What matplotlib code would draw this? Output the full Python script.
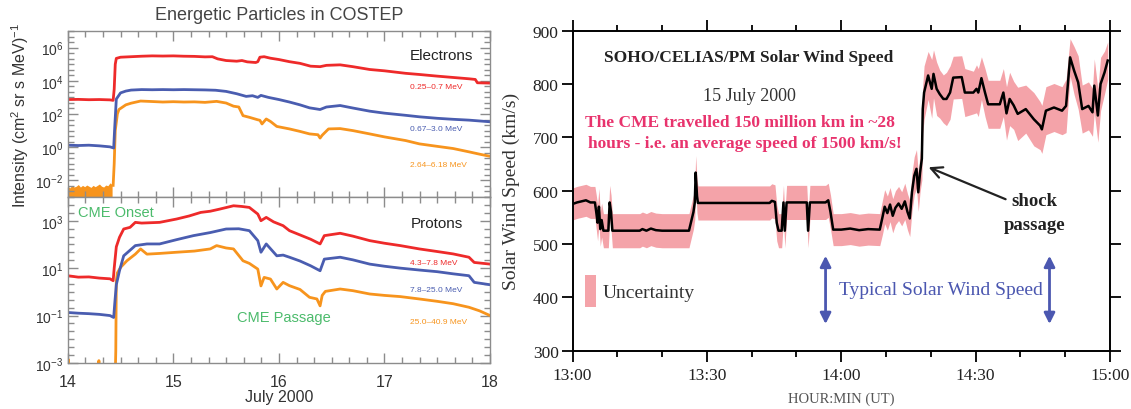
import numpy as np
import matplotlib.pyplot as plt
from matplotlib.ticker import FixedLocator, NullFormatter, FuncFormatter, LogFormatterSciNotation
from matplotlib.patches import Rectangle

plt.rcParams['font.family'] = 'Liberation Sans'
plt.rcParams['mathtext.fontset'] = 'custom'
plt.rcParams['mathtext.rm'] = 'Liberation Sans'
plt.rcParams['mathtext.it'] = 'Liberation Sans:italic'

# ---- COSTEP electrons (day of July 2000, log10 intensity)
e1_t = [14.0, 14.1, 14.2, 14.3, 14.4, 14.43, 14.44, 14.45, 14.46, 14.5, 14.6, 14.7, 14.8, 14.9,
        15.0, 15.1, 15.2, 15.3, 15.37, 15.42, 15.5, 15.6, 15.65, 15.7, 15.78, 15.8, 15.82, 15.86,
        15.92, 16.0, 16.1, 16.2, 16.3, 16.39, 16.45, 16.58, 16.7, 16.86, 17.0, 17.2, 17.33, 17.5,
        17.65, 17.8, 17.86, 17.88, 18.0]
e1_log = [2.87, 2.88, 2.86, 2.87, 2.85, 2.82, 3.5, 5.0, 5.35, 5.42, 5.45, 5.48, 5.50, 5.49,
          5.50, 5.48, 5.47, 5.44, 5.45, 5.32, 5.22, 5.18, 5.22, 5.14, 5.10, 5.15, 5.42, 5.45,
          5.36, 5.28, 5.15, 5.05, 4.88, 4.85, 4.93, 4.96, 4.85, 4.68, 4.60, 4.45, 4.38, 4.28,
          4.20, 4.12, 4.08, 3.88, 3.86]

e2_t = [14.0, 14.1, 14.2, 14.3, 14.4, 14.435, 14.445, 14.46, 14.5, 14.55, 14.6, 14.7, 14.8, 14.9,
        15.0, 15.1, 15.2, 15.3, 15.4, 15.5, 15.6, 15.69, 15.75, 15.8, 15.83, 15.9, 16.0, 16.1,
        16.2, 16.29, 16.39, 16.45, 16.58, 16.7, 16.86, 17.0, 17.2, 17.33, 17.5, 17.65, 17.8,
        17.9, 18.0]
e2_log = [0.12, 0.10, 0.12, 0.08, 0.02, -0.05, 1.2, 2.9, 3.27, 3.38, 3.44, 3.47, 3.46, 3.47,
          3.46, 3.47, 3.46, 3.45, 3.43, 3.36, 3.22, 3.06, 3.10, 3.00, 3.12, 3.00, 2.87, 2.72,
          2.55, 2.37, 2.27, 2.42, 2.51, 2.36, 2.17, 2.05, 1.92, 1.83, 1.74, 1.68, 1.63,
          1.58, 1.53]

# orange channel before onset is a noisy band sitting on the bottom of the panel
e3_pre_t = [14.00, 14.02, 14.04, 14.06, 14.08, 14.10, 14.12, 14.14, 14.16, 14.18, 14.20,
            14.22, 14.24, 14.26, 14.28, 14.30, 14.32, 14.34, 14.36, 14.38, 14.40, 14.42]
e3_pre_top = [-2.35, -2.45, -2.3, -2.4, -2.35, -2.25, -2.4, -2.3, -2.38, -2.28, -2.35,
              -2.42, -2.3, -2.38, -2.3, -2.22, -2.35, -2.4, -2.28, -2.32, -2.15, -2.25]
e3_t = [14.43, 14.44, 14.45, 14.47, 14.485, 14.55, 14.6, 14.69, 14.8, 14.9, 15.0, 15.1, 15.2,
        15.3, 15.41, 15.5, 15.57, 15.62, 15.66, 15.72, 15.8, 15.82, 15.84, 15.88, 15.92, 15.98,
        16.1, 16.2, 16.29, 16.37, 16.39, 16.41, 16.47, 16.58, 16.7, 16.86, 17.0, 17.2, 17.33,
        17.5, 17.65, 17.8, 17.9, 18.0]
e3_log = [-2.3, -1.0, 1.0, 2.0, 2.27, 2.55, 2.65, 2.78, 2.75, 2.72, 2.74, 2.72, 2.73,
          2.70, 2.76, 2.66, 2.47, 2.42, 1.90, 1.80, 1.65, 1.62, 1.40, 1.70, 1.55, 1.25,
          1.10, 0.95, 0.80, 0.75, 0.55, 0.72, 1.10, 1.12, 1.00, 0.80, 0.62, 0.40, 0.20,
          0.05, -0.08, -0.28, -0.42, -0.55]

# ---- COSTEP protons
p1_t = [14.0, 14.1, 14.2, 14.3, 14.4, 14.43, 14.44, 14.46, 14.49, 14.53, 14.59, 14.64, 14.7,
        14.87, 15.03, 15.15, 15.26, 15.35, 15.44, 15.57, 15.65, 15.72, 15.8, 15.83, 15.88,
        15.95, 16.04, 16.1, 16.2, 16.3, 16.39, 16.43, 16.58, 16.7, 16.86, 17.0, 17.15, 17.33,
        17.5, 17.65, 17.8, 17.85, 18.0]
p1_log = [0.68, 0.62, 0.63, 0.58, 0.55, 0.47, 1.0, 1.9, 2.3, 2.65, 2.72, 2.93, 2.90,
          2.93, 3.07, 3.2, 3.35, 3.40, 3.49, 3.63, 3.60, 3.56, 3.28, 3.0, 3.14,
          2.95, 2.79, 2.58, 2.40, 2.22, 2.02, 2.37, 2.47, 2.35, 2.16, 2.05, 1.95, 1.81,
          1.70, 1.60, 1.46, 1.24, 1.17]

p2_t = [14.0, 14.1, 14.2, 14.3, 14.4, 14.435, 14.445, 14.46, 14.49, 14.53, 14.64, 14.75, 14.87,
        15.03, 15.19, 15.35, 15.5, 15.62, 15.72, 15.8, 15.83, 15.88, 15.98, 16.04, 16.1, 16.2,
        16.3, 16.39, 16.43, 16.58, 16.7, 16.86, 17.0, 17.15, 17.33, 17.5, 17.65, 17.8, 17.85,
        18.0]
p2_log = [-0.87, -0.90, -0.92, -0.95, -1.0, -1.08, -0.5, 0.3, 0.89, 1.52, 1.95, 2.02, 2.02,
          2.2, 2.37, 2.5, 2.65, 2.66, 2.58, 2.16, 1.67, 2.02, 1.52, 1.55, 1.46, 1.30,
          1.10, 0.89, 1.38, 1.46, 1.35, 1.17, 1.08, 1.0, 0.92, 0.85, 0.76, 0.68, 0.40,
          0.30]

p3_t = [14.0, 14.005, 14.01, 14.29, 14.295, 14.30, 14.45, 14.455, 14.46, 14.47, 14.5, 14.56,
        14.64, 14.69, 14.75, 14.87, 15.03, 15.2, 15.35, 15.41, 15.5, 15.57, 15.66, 15.72, 15.8,
        15.83, 15.86, 15.92, 15.98, 16.04, 16.1, 16.2, 16.29, 16.36, 16.39, 16.41, 16.44, 16.58,
        16.7, 16.86, 17.0, 17.15, 17.33, 17.5, 17.65, 17.8, 17.9, 18.0]
p3_log = [-3.5, -2.85, -3.5, -3.5, -2.9, -3.5, -3.5, -2.49, 0.47, 0.8, 1.03, 1.31,
          1.59, 1.81, 1.59, 1.62, 1.67, 1.72, 1.81, 1.95, 1.85, 1.81, 1.31, 1.2, 0.96,
          0.25, 0.61, 0.54, 0.12, 0.4, 0.26, 0.1, -0.23, -0.3, -0.59, -0.15, 0.02, 0.12,
          0.05, -0.09, -0.15, -0.2, -0.3, -0.4, -0.5, -0.65, -0.8, -1.0]

e_labels = ['0.25\u20130.7 MeV', '0.67\u20133.0 MeV', '2.64\u20136.18 MeV']
p_labels = ['4.3\u20137.8 MeV', '7.8\u201325.0 MeV', '25.0\u201340.9 MeV']
day_ticks = [14, 15, 16, 17, 18]

# ---- SOHO/CELIAS/PM solar wind (minutes after 13:00 UT, km/s)
sw_t = [0, 1, 2, 3, 4, 5, 5.3, 5.6, 5.9, 6.2,
        6.5, 6.9, 8.0, 8.3, 8.6, 8.9, 15, 15.6, 16.5, 17.5,
        18.6, 20, 26, 27.0, 27.3, 27.5, 27.8, 28, 44, 44.5,
        45.2, 45.6, 46.0, 46.7, 47.1, 47.4, 47.8, 52.3, 52.6, 53.0,
        56.5, 57.1, 57.6, 58.2, 60, 62, 64, 66, 68.6, 69.2,
        69.7, 70.3, 70.9, 71.5, 72.1, 72.8, 73.5, 74.2, 74.8, 75.3,
        75.8, 76.3, 76.8, 77.2, 77.6, 78.0, 78.2, 78.5, 79.4, 80.2,
        80.6, 81.3, 82.0, 82.8, 83.5, 84.3, 85.0, 86.9, 87.6, 89.5,
        90.2, 90.6, 91.3, 92.1, 92.8, 95.4, 96.2, 96.9, 97.6, 98.5,
        99.4, 101.2, 103.0, 104.4, 104.8, 105.7, 107.5, 109.3, 110.2, 111.1,
        112.0, 112.9, 113.8, 115.2, 116.1, 116.5, 117.3, 117.9, 118.8, 119.5]
sw_v = [575, 578, 580, 582, 578, 578, 560, 540, 570, 528,
        545, 525, 525, 578, 560, 525, 525, 528, 525, 529,
        526, 525, 525, 560, 578, 634, 590, 577, 577, 581,
        579, 540, 525, 525, 578, 525, 578, 578, 525, 578,
        578, 582, 560, 527, 527, 529, 526, 528, 527, 550,
        570, 558, 574, 553, 568, 576, 566, 580, 560, 548,
        598, 628, 641, 597, 634, 660, 753, 784, 816, 791,
        819, 791, 781, 772, 772, 784, 812, 813, 784, 784,
        791, 784, 811, 784, 762, 762, 784, 745, 772, 760,
        744, 753, 734, 722, 715, 750, 756, 750, 759, 850,
        825, 803, 753, 759, 747, 797, 741, 800, 822, 844]
sw_err = [30, 30, 30, 30, 30, 30, 32, 34, 34, 32,
          32, 32, 32, 32, 32, 32, 32, 32, 32, 32,
          32, 32, 32, 32, 32, 32, 32, 32, 32, 32,
          32, 34, 32, 32, 32, 32, 32, 32, 32, 32,
          32, 32, 32, 30, 30, 30, 30, 30, 30, 32,
          32, 32, 32, 32, 32, 32, 32, 34, 34, 34,
          36, 36, 36, 36, 36, 40, 45, 50, 45, 55,
          45, 50, 45, 45, 50, 50, 40, 40, 45, 40,
          45, 45, 40, 45, 45, 45, 45, 50, 50, 45,
          50, 45, 50, 45, 45, 45, 45, 45, 50, 35,
          45, 50, 45, 45, 45, 50, 50, 50, 40, 35]
sw_ticks = [0, 30, 60, 90, 120]

c_red = '#ee2a2a'
c_blue = '#4a5db0'
c_orange = '#f7941d'
c_green = '#4cbb6c'
c_grey = '#8c8c8c'

fig = plt.figure(figsize=(11.31, 4.10), dpi=100)

ax_e = fig.add_axes([0.0599, 0.5171, 0.3734, 0.4049])
ax_p = fig.add_axes([0.0599, 0.1122, 0.3734, 0.4049])


def style_left(ax, majors):
    ax.set_yscale('log')
    ax.set_xlim(14, 18)
    for s in ax.spines.values():
        s.set_color(c_grey)
        s.set_linewidth(1.0)
    ax.xaxis.set_major_locator(FixedLocator(day_ticks))
    ax.xaxis.set_minor_locator(FixedLocator([14 + k / 6 for k in range(25)]))
    ax.yaxis.set_major_locator(FixedLocator([10.0 ** m for m in majors]))
    ax.yaxis.set_major_formatter(LogFormatterSciNotation())
    ax.yaxis.set_minor_locator(FixedLocator([10.0 ** (k / 3) for k in range(-12, 24)]))
    ax.yaxis.set_minor_formatter(NullFormatter())
    ax.tick_params(which='both', direction='in', top=True, right=True, color=c_grey,
                   labelcolor='#333333')
    ax.tick_params(which='major', length=7, width=1, labelsize=10)
    ax.tick_params(axis='y', which='major', pad=3)
    ax.tick_params(axis='x', which='major', labelsize=11.5, pad=8)
    ax.tick_params(which='minor', length=4, width=1)


lw = 2.0
ax_e.fill_between(e3_pre_t, 1e-4, 10.0 ** np.array(e3_pre_top), color=c_orange, lw=0)
ax_e.plot(e3_t, 10.0 ** np.array(e3_log), color=c_orange, lw=lw)
ax_e.plot(e2_t, 10.0 ** np.array(e2_log), color=c_blue, lw=lw)
ax_e.plot(e1_t, 10.0 ** np.array(e1_log), color=c_red, lw=lw)
style_left(ax_e, [-2, 0, 2, 4, 6])
ax_e.set_ylim(1e-3, 1e7)
ax_e.tick_params(axis='x', labelbottom=False)

ax_p.plot(p3_t, 10.0 ** np.array(p3_log), color=c_orange, lw=lw)
ax_p.plot(p2_t, 10.0 ** np.array(p2_log), color=c_blue, lw=lw)
ax_p.plot(p1_t, 10.0 ** np.array(p1_log), color=c_red, lw=lw)
style_left(ax_p, [-3, -1, 1, 3])
ax_p.set_ylim(1e-3, 1e4)

ax_e.text(17.84, 10 ** 5.55, 'Electrons', ha='right', va='center', fontsize=11, color='#222222')
for lab, ly, c in zip(e_labels, [3.64, 1.13, -1.07], [c_red, c_blue, c_orange]):
    ax_e.text(17.24, 10 ** ly, lab, ha='left', va='center', fontsize=6, color=c)
ax_p.text(17.74, 10 ** 2.9, 'Protons', ha='right', va='center', fontsize=11, color='#222222')
for lab, ly, c in zip(p_labels, [1.22, 0.12, -1.23], [c_red, c_blue, c_orange]):
    ax_p.text(17.24, 10 ** ly, lab, ha='left', va='center', fontsize=6, color=c)
ax_p.text(14.1, 10 ** 3.37, 'CME Onset', ha='left', va='center', fontsize=10.5, color=c_green)
ax_p.text(15.6, 10 ** -1.06, 'CME Passage', ha='left', va='center', fontsize=10.5, color=c_green)

fig.text(278.9 / 1131, 1 - 15 / 410, 'Energetic Particles in COSTEP', ha='center', va='center',
         fontsize=13, color='#444444')
fig.text(20 / 1131, 1 - 116 / 410, 'Intensity (cm$^2$ sr s MeV)$^{-1}$', rotation=90,
         ha='center', va='center', fontsize=11.5, color='#333333')
fig.text(278.9 / 1131, 1 - 398 / 410, 'July 2000', ha='center', va='center',
         fontsize=11.5, color='#333333')

# ---- right panel
serif = 'Liberation Serif'
ax = fig.add_axes([0.5062, 0.1422, 0.4752, 0.7805])
sw_t_a = np.array(sw_t)
sw_v_a = np.array(sw_v)
sw_e_a = np.array(sw_err)
ax.fill_between(sw_t_a, sw_v_a - sw_e_a, sw_v_a + sw_e_a, color='#f4a3a9', lw=0)
ax.plot(sw_t_a, sw_v_a, color='black', lw=1.8)
ax.set_xlim(0, 120)
ax.set_ylim(300, 900)
for s in ax.spines.values():
    s.set_linewidth(1.4)
ax.xaxis.set_major_locator(FixedLocator(sw_ticks))
ax.xaxis.set_minor_locator(FixedLocator(list(range(0, 121, 10))))
ax.xaxis.set_major_formatter(FuncFormatter(lambda m, pos: '%d:%02d' % (13 + int(m) // 60, int(m) % 60)))
ax.yaxis.set_major_locator(FixedLocator(list(range(300, 901, 100))))
ax.tick_params(which='both', direction='out', top=True, right=True, labelfontfamily=serif,
               labelsize=12.5, labelcolor='#222222')
ax.tick_params(which='major', length=8, width=1.3)
ax.tick_params(which='minor', length=4, width=1.3)
ax.tick_params(axis='x', pad=4)
ax.tick_params(axis='y', pad=2)
ax.set_ylabel('Solar Wind Speed (km/s)', family=serif, fontsize=14, color='#333333')
ax.yaxis.set_label_coords(-0.098, 0.5)
ax.set_xlabel('HOUR:MIN (UT)', family=serif, fontsize=10.5, color='#555555')
ax.xaxis.set_label_coords(0.5, -0.128)

ax.text(39.3, 851, 'SOHO/CELIAS/PM Solar Wind Speed', family=serif, fontsize=12.5,
        fontweight='bold', ha='center', va='center', color='#222222')
ax.text(39.5, 778, '15 July 2000', family=serif, fontsize=13, ha='center', va='center',
        color='#333333')
ax.text(37.5, 729, 'The CME travelled 150 million km in ~28', family=serif, fontsize=12.5,
        fontweight='bold', ha='center', va='center', color='#e8336d')
ax.text(38.5, 689, 'hours - i.e. an average speed of 1500 km/s!', family=serif, fontsize=12.5,
        fontweight='bold', ha='center', va='center', color='#e8336d')
ax.text(103.2, 581, 'shock', family=serif, fontsize=13.5, fontweight='bold', ha='center',
        va='center', color='#222222')
ax.text(103.2, 537, 'passage', family=serif, fontsize=13.5, fontweight='bold', ha='center',
        va='center', color='#222222')
ax.annotate('', xy=(79.5, 644), xytext=(96.7, 584),
            arrowprops=dict(arrowstyle='->', lw=1.6, color='#222222', mutation_scale=20,
                            shrinkA=0, shrinkB=0))

ax.add_patch(Rectangle((2.8, 381), 2.5, 61, color='#f4a3a9', lw=0))
ax.text(6.8, 409, 'Uncertainty', family=serif, fontsize=14, ha='left', va='center',
        color='#333333')

c_typ = '#4b57b0'
for tx in [56.5, 106.5]:
    ax.annotate('', xy=(tx, 478), xytext=(tx, 350),
                arrowprops=dict(arrowstyle='<|-|>', lw=2, color=c_typ, mutation_scale=16,
                                shrinkA=0, shrinkB=0))
ax.text(82.3, 414, 'Typical Solar Wind Speed', family=serif, fontsize=14, ha='center',
        va='center', color=c_typ)

fig.savefig('out.png', dpi=100)
